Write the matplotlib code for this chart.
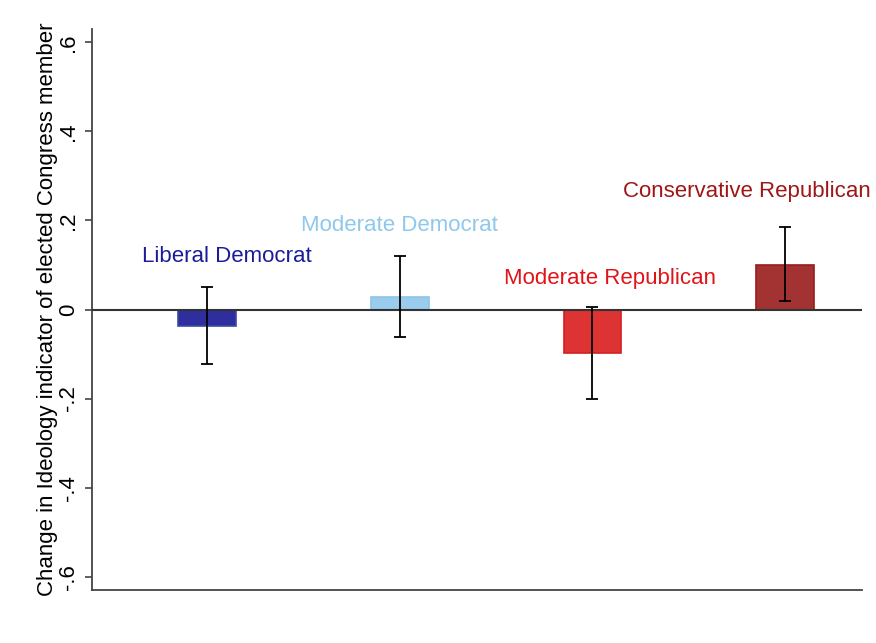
import matplotlib
matplotlib.use('Agg')
import matplotlib.pyplot as plt
import numpy as np

plt.rcParams['font.family'] = ['Liberation Sans', 'DejaVu Sans']

# groups, point estimates and confidence bounds
groups = ['Liberal Democrat', 'Moderate Democrat', 'Moderate Republican', 'Conservative Republican']
estimates = [-0.036, 0.029, -0.098, 0.101]
ci_low = [-0.123, -0.061, -0.202, 0.020]
ci_high = [0.051, 0.121, 0.006, 0.185]
y_ticks = [-0.6, -0.4, -0.2, 0, 0.2, 0.4, 0.6]
y_tick_labels = ['-.6', '-.4', '-.2', '0', '.2', '.4', '.6']

bar_colors = ['#2e2e9e', '#99cced', '#dd3333', '#a33333']
edge_colors = ['#3a4aa0', '#8cc4ec', '#d42020', '#991c1c']
text_colors = ['#1c1c9a', '#8ec8ec', '#e01418', '#9e1616']
# label anchor (x, y) in data coords
label_pos = [(1.10, 0.119), (2.0, 0.188), (3.09, 0.070), (3.80, 0.265)]

fig = plt.figure(figsize=(8.76, 6.43), dpi=100)
ax = fig.add_axes([0.1047, 0.0824, 0.8793, 0.8725])

x = np.arange(1, len(groups) + 1)
est = np.array(estimates)
yerr = np.array([est - np.array(ci_low), np.array(ci_high) - est])

ax.bar(x, est, width=0.30, color=bar_colors, edgecolor=edge_colors, linewidth=1.2, zorder=2)
ax.axhline(0, color='#333333', linewidth=1.5, zorder=3)
ax.errorbar(x, est, yerr=yerr, fmt='none', ecolor='black', elinewidth=1.3,
            capsize=4, capthick=1.3, zorder=4)

for (lx, ly), name, c in zip(label_pos, groups, text_colors):
    ax.text(lx, ly, name, color=c, fontsize=16, ha='center', va='center')

ax.set_xlim(0.40, 4.40)
ax.set_ylim(-0.63, 0.63)
ax.set_yticks(y_ticks)
ax.set_yticklabels(y_tick_labels, rotation=90, va='center', fontsize=16)
ax.set_xticks([])
ax.set_ylabel('Change in Ideology indicator of elected Congress member', fontsize=16, labelpad=0)
ax.tick_params(axis='y', length=5, width=1.2, color='#444444', pad=4)

for side in ['top', 'right']:
    ax.spines[side].set_visible(False)
for side in ['left', 'bottom']:
    ax.spines[side].set_color('#444444')
    ax.spines[side].set_linewidth(1.3)

fig.savefig('out.png', dpi=100, facecolor='white')
